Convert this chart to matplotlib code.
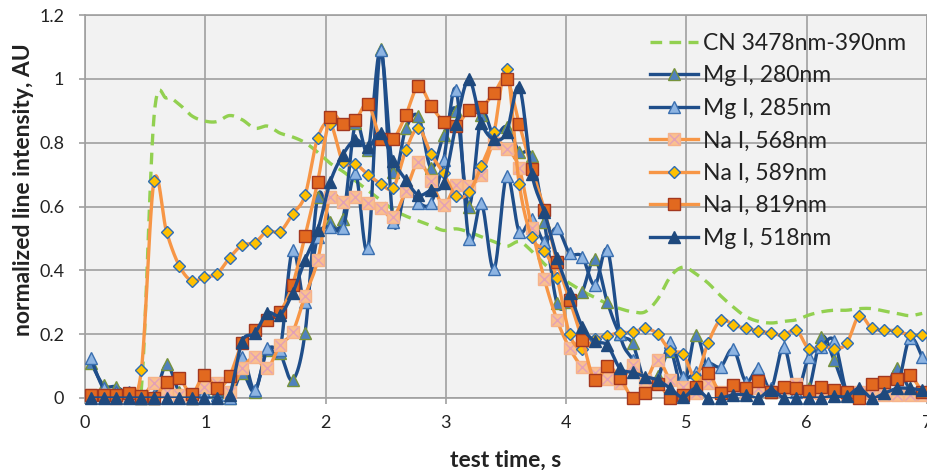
import numpy as np
import matplotlib
matplotlib.use("Agg")
import matplotlib.pyplot as plt
from matplotlib.lines import Line2D
from matplotlib.legend_handler import HandlerTuple

plt.rcParams['font.family'] = ['Lato', 'DejaVu Sans']

# ---------------------------
# Data
# ---------------------------
n_pts = 67
time_s = 0.05 + 0.1047 * np.arange(n_pts)  # acquisition time grid

cn_3478_390 = [0.01, 0.0, 0.01, 0.0, 0.03,
               0.88, 0.94, 0.92, 0.884, 0.868,
               0.866, 0.885, 0.872, 0.845, 0.852,
               0.83, 0.818, 0.80, 0.77, 0.735,
               0.71, 0.68, 0.65, 0.62, 0.59,
               0.57, 0.555, 0.54, 0.525, 0.53,
               0.52, 0.505, 0.49, 0.475, 0.49,
               0.46, 0.42, 0.385, 0.36, 0.335,
               0.315, 0.295, 0.28, 0.27, 0.27,
               0.31, 0.38, 0.41, 0.39, 0.36,
               0.32, 0.285, 0.255, 0.24, 0.235,
               0.24, 0.245, 0.26, 0.27, 0.275,
               0.275, 0.28, 0.28, 0.272, 0.265,
               0.258, 0.265]

mg_280 = [0.11, 0.04, 0.035, 0.01, 0.0,
          0.0, 0.105, 0.02, 0.0, 0.03,
          0.02, 0.0, 0.077, 0.02, 0.15,
          0.14, 0.056, 0.205, 0.631, 0.55,
          0.56, 0.861, 0.777, 1.093, 0.709,
          0.845, 0.882, 0.72, 0.824, 0.9,
          0.6, 0.887, 0.82, 0.85, 0.772,
          0.757, 0.55, 0.297, 0.30, 0.333,
          0.436, 0.30, 0.2, 0.171, 0.05,
          0.07, 0.147, 0.03, 0.197, 0.08,
          0.02, 0.03, 0.02, 0.04, 0.02,
          0.03, 0.03, 0.03, 0.192, 0.119,
          0.02, 0.01, 0.02, 0.02, 0.093,
          0.03, 0.02]

mg_285 = [0.124, 0.03, 0.02, 0.02, 0.0,
          0.01, 0.03, 0.01, 0.0, 0.02,
          0.01, 0.0, 0.13, 0.025, 0.156,
          0.15, 0.464, 0.3, 0.506, 0.537,
          0.532, 0.704, 0.469, 1.09, 0.55,
          0.654, 0.612, 0.612, 0.746, 0.966,
          0.497, 0.61, 0.403, 0.696, 0.521,
          0.56, 0.49, 0.532, 0.454, 0.443,
          0.354, 0.464, 0.2, 0.12, 0.05,
          0.06, 0.176, 0.067, 0.08, 0.109,
          0.098, 0.153, 0.051, 0.093, 0.03,
          0.161, 0.02, 0.129, 0.16, 0.18,
          0.02, 0.01, 0.02, 0.02, 0.03,
          0.187, 0.129]

na_568 = [0.01, 0.01, 0.0, 0.01, 0.0,
          0.046, 0.02, 0.01, 0.0, 0.035,
          0.046, 0.02, 0.093, 0.127, 0.093,
          0.166, 0.206, 0.32, 0.432, 0.631,
          0.613, 0.629, 0.61, 0.595, 0.568,
          0.65, 0.739, 0.68, 0.605, 0.668,
          0.665, 0.70, 0.80, 0.78, 0.72,
          0.532, 0.372, 0.245, 0.156, 0.098,
          0.077, 0.06, 0.046, 0.103, 0.056,
          0.12, 0.056, 0.035, 0.015, 0.046,
          0.02, 0.03, 0.02, 0.03, 0.02,
          0.03, 0.045, 0.02, 0.015, 0.02,
          0.01, 0.02, 0.015, 0.01, 0.01,
          0.01, 0.01]

na_589 = [0.0, 0.01, 0.0, 0.01, 0.088,
          0.68, 0.52, 0.415, 0.367, 0.379,
          0.389, 0.439, 0.479, 0.486, 0.523,
          0.521, 0.576, 0.636, 0.815, 0.86,
          0.74, 0.733, 0.70, 0.672, 0.659,
          0.776, 0.845, 0.764, 0.704, 0.633,
          0.644, 0.727, 0.833, 1.031, 0.671,
          0.503, 0.461, 0.375, 0.2, 0.153,
          0.185, 0.195, 0.205, 0.206, 0.218,
          0.2, 0.148, 0.138, 0.067, 0.173,
          0.245, 0.229, 0.218, 0.211, 0.203,
          0.197, 0.213, 0.154, 0.164, 0.154,
          0.171, 0.258, 0.218, 0.213, 0.21,
          0.197, 0.197]

na_819 = [0.01, 0.01, 0.01, 0.015, 0.005,
          0.0, 0.051, 0.062, 0.012, 0.072,
          0.03, 0.069, 0.171, 0.212, 0.245,
          0.27, 0.354, 0.509, 0.678, 0.881,
          0.859, 0.871, 0.922, 0.811, 0.811,
          0.887, 0.978, 0.916, 0.866, 0.852,
          0.903, 0.911, 0.955, 1.0, 0.859,
          0.718, 0.59, 0.427, 0.308, 0.183,
          0.056, 0.099, 0.063, 0.001, 0.015,
          0.044, 0.0, 0.01, 0.035, 0.077,
          0.015, 0.042, 0.03, 0.052, 0.02,
          0.033, 0.03, 0.022, 0.035, 0.026,
          0.02, 0.0, 0.043, 0.051, 0.059,
          0.072, 0.018]

mg_518 = [0.0, 0.0, 0.0, 0.0, 0.0,
          0.0, 0.0, 0.0, 0.0, 0.0,
          0.0, 0.01, 0.177, 0.203, 0.266,
          0.26, 0.328, 0.433, 0.527, 0.677,
          0.762, 0.809, 0.785, 0.83, 0.743,
          0.683, 0.636, 0.652, 0.673, 0.859,
          0.998, 0.861, 0.81, 0.833, 0.975,
          0.703, 0.582, 0.44, 0.33, 0.224,
          0.178, 0.165, 0.093, 0.08, 0.067,
          0.056, 0.03, 0.002, 0.03, 0.0,
          0.0, 0.01, 0.01, 0.0, 0.025,
          0.0, 0.0, 0.0, 0.0, 0.005,
          0.005, 0.03, 0.0, 0.015, 0.03,
          0.03, 0.025]

labels = ["CN 3478nm-390nm", "Mg I, 280nm", "Mg I, 285nm", "Na I, 568nm",
          "Na I, 589nm", "Na I, 819nm", "Mg I, 518nm"]


# Excel-like smoothed line (Catmull-Rom through the points)
def smooth(x, y, n=12):
    x = np.asarray(x, float)
    y = np.asarray(y, float)
    xs, ys = [], []
    s = np.linspace(0, 1, n, endpoint=False)
    for i in range(len(x) - 1):
        x0, y0 = (x[i - 1], y[i - 1]) if i > 0 else (x[i], y[i])
        x3, y3 = (x[i + 2], y[i + 2]) if i + 2 < len(x) else (x[i + 1], y[i + 1])
        cx1 = x[i] + (x[i + 1] - x0) / 6
        cy1 = y[i] + (y[i + 1] - y0) / 6
        cx2 = x[i + 1] - (x3 - x[i]) / 6
        cy2 = y[i + 1] - (y3 - y[i]) / 6
        b0, b1, b2, b3 = (1 - s) ** 3, 3 * s * (1 - s) ** 2, 3 * s ** 2 * (1 - s), s ** 3
        xs.append(b0 * x[i] + b1 * cx1 + b2 * cx2 + b3 * x[i + 1])
        ys.append(b0 * y[i] + b1 * cy1 + b2 * cy2 + b3 * y[i + 1])
    xs.append([x[-1]])
    ys.append([y[-1]])
    return np.concatenate(xs), np.concatenate(ys)


navy = '#1F4E8A'
orange = '#F79646'
green = '#92D050'
lw = 2.4
txt = '#222222'

fig = plt.figure(figsize=(9.27, 4.70), dpi=100)
ax = fig.add_axes([85 / 927, 1 - 398 / 470, 842 / 927, 383 / 470])
ax.set_facecolor('#F2F2F2')

# CN dashed
sx, sy = smooth(time_s, cn_3478_390)
ax.plot(sx, sy, color=green, lw=2.4, dashes=(3.5, 2.2), zorder=2)

series = [
    (mg_280, navy, dict(marker='^', ms=8.5, mfc='#4F81BD', mec='#77933C', mew=1.0)),
    (mg_285, navy, dict(marker='^', ms=8.5, mfc='#8DB4E2', mec='#3A6FB0', mew=1.0)),
    (na_568, orange, dict(marker='s', ms=8.5, mfc='#FAC090', mec='#F6B38A', mew=1.0)),
    (na_589, orange, dict(marker='D', ms=6.2, mfc='#FFC000', mec='#2E6DB4', mew=1.0)),
    (na_819, orange, dict(marker='s', ms=8.8, mfc='#E2691F', mec='#A3381F', mew=1.0)),
    (mg_518, navy, dict(marker='^', ms=8.5, mfc='#1F497D', mec='#1F497D', mew=1.0)),
]

z = 3
for vals, col, mk in series:
    sx, sy = smooth(time_s, vals)
    ax.plot(sx, sy, color=col, lw=lw, solid_capstyle='round', zorder=z)
    ax.plot(time_s, vals, ls='none', clip_on=False, zorder=z + 0.5, **mk)
    if vals is na_568:
        ax.plot(time_s, vals, ls='none', marker='x', ms=7, mec='#E3A1B5',
                mew=1.0, clip_on=False, zorder=z + 0.6)
    z += 1

ax.set_xlim(0, 7)
ax.set_ylim(0, 1.2)
ax.set_xticks(range(8))
ax.set_yticks([0, 0.2, 0.4, 0.6, 0.8, 1.0, 1.2])
ax.set_yticklabels(['0', '0.2', '0.4', '0.6', '0.8', '1', '1.2'])
ax.grid(True, color='#A0A0A0', lw=1.2)
ax.set_axisbelow(True)
for sp in ax.spines.values():
    sp.set_color('#A0A0A0')
    sp.set_linewidth(1.2)
ax.tick_params(axis='x', length=4, width=1.2, color='#A0A0A0', labelsize=13,
               pad=8, labelcolor=txt)
ax.tick_params(axis='y', length=4, width=1.2, color='#A0A0A0', labelsize=13,
               pad=11, labelcolor=txt)

ax.set_xlabel('test time, s', fontsize=16.5, fontweight='bold', color=txt)
ax.xaxis.set_label_coords(0.5, -(460 - 398) / 383)
ax.xaxis.label.set_va('center')
ax.set_ylabel('normalized line intensity, AU', fontsize=16.5, fontweight='bold',
              color=txt)
ax.yaxis.set_label_coords(-(85 - 24) / 842, (398 - 190) / 383)
ax.yaxis.label.set_va('center')

# Legend
h_cn = Line2D([], [], color=green, lw=2.4, dashes=(3.5, 2.2))
handles = [h_cn]
for vals, col, mk in series:
    h = Line2D([], [], color=col, lw=lw, **mk)
    if vals is na_568:
        hx = Line2D([], [], ls='none', marker='x', ms=7, mec='#E3A1B5', mew=1.0)
        h = (h, hx)
    handles.append(h)

ax.legend(handles, labels, loc='upper left',
          bbox_to_anchor=(650 / 927, 1 - 33 / 470), bbox_transform=fig.transFigure,
          frameon=False, fontsize=16.5, handlelength=2.1, handletextpad=0.22,
          labelspacing=0.5, borderpad=0, borderaxespad=0, numpoints=1,
          handler_map={tuple: HandlerTuple(ndivide=1)}, labelcolor=txt)

fig.savefig('out.png', dpi=100)
